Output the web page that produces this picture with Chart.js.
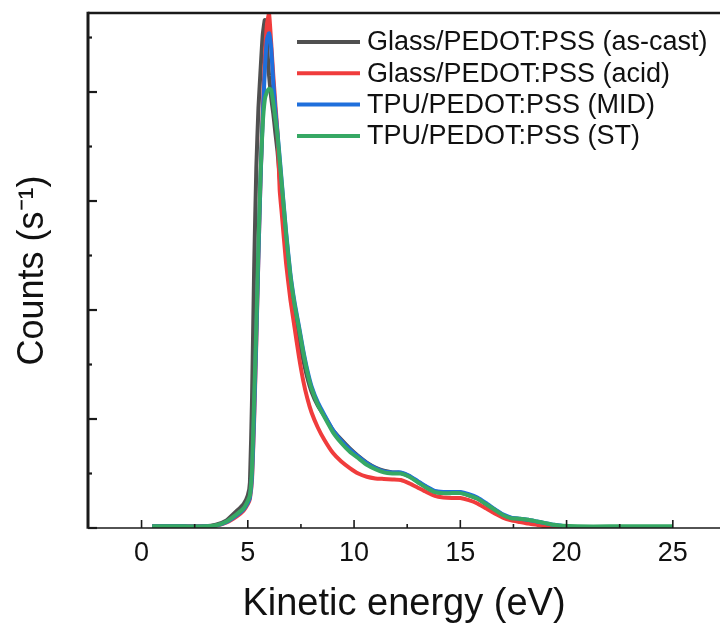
<!DOCTYPE html>
<html><head><meta charset="utf-8">
<style>html,body{margin:0;padding:0;background:#fff;overflow:hidden}canvas{display:block}</style>
<script src="https://cdn.jsdelivr.net/npm/chart.js@4.4.1/dist/chart.umd.min.js"></script>
</head><body>
<canvas id="c" width="720" height="629"></canvas>
<script>
// ---- data (kinetic energy in eV, counts in arbitrary units) ----
const energy = [0.5, 1, 2, 3, 3.5,
  4, 4.5, 4.8, 5.0, 5.1,
  5.2, 5.3, 5.4, 5.5, 5.6, 5.7, 5.8, 5.9, 6.0,
  6.1, 6.2, 6.3, 6.4, 6.5, 6.6,
  6.8, 7.0, 7.2, 7.4, 7.6, 7.8, 8.0,
  8.3, 8.6,
  9.0, 9.4, 9.8, 10.2, 10.6, 11.0, 11.4, 11.8, 12.2, 12.6, 13.0, 13.4, 13.8, 14.2,
  14.6, 15.0, 15.4, 15.8, 16.2, 16.6, 17.0, 17.4, 17.8, 18.2, 18.6, 19.0, 19.4, 19.8,
  20.5, 22, 23.5, 25];

const glassAsCast = [0.015, 0.015, 0.015, 0.015, 0.03,
  0.07, 0.16, 0.22, 0.30, 0.42,
  1.2, 2.4, 3.3, 3.85, 4.2, 4.52, 4.66, 4.45, 4.15,
  3.95, 3.8, 3.62, 3.45, 3.22, 3.0,
  2.58, 2.22, 1.96, 1.74, 1.55, 1.38, 1.25,
  1.12, 1.03,
  0.90, 0.81, 0.73, 0.66, 0.60, 0.555, 0.525, 0.51, 0.505, 0.475, 0.425, 0.375, 0.335, 0.325,
  0.325, 0.325, 0.30, 0.27, 0.22, 0.17, 0.12, 0.09, 0.08, 0.07, 0.055, 0.04, 0.025, 0.015,
  null, null, null, null];

const glassAcid = [0.015, 0.015, 0.015, 0.015, 0.02,
  0.05, 0.11, 0.16, 0.22, 0.27,
  0.45, 1.0, 1.7, 2.5, 3.2, 3.8, 4.3, 4.62, 4.72,
  4.45, 4.15, 3.88, 3.62, 3.1, 2.88,
  2.43, 2.1, 1.84, 1.58, 1.36, 1.19, 1.06,
  0.92, 0.81,
  0.69, 0.61, 0.55, 0.50, 0.47, 0.455, 0.45, 0.445, 0.44, 0.41, 0.37, 0.33, 0.295, 0.28,
  0.275, 0.275, 0.255, 0.225, 0.18, 0.135, 0.095, 0.07, 0.055, 0.04, 0.03, 0.015, 0.012, 0.01,
  null, null, null, null];

const tpuMID = [0.015, 0.015, 0.015, 0.015, 0.022,
  0.055, 0.12, 0.17, 0.23, 0.28,
  0.48, 1.05, 1.75, 2.5, 3.2, 3.75, 4.2, 4.48, 4.54,
  4.4, 4.08, 3.82, 3.62, 3.4, 3.17,
  2.72, 2.34, 2.07, 1.86, 1.64, 1.45, 1.30,
  1.15, 1.04,
  0.90, 0.80, 0.72, 0.655, 0.595, 0.55, 0.52, 0.51, 0.51, 0.48, 0.43, 0.38, 0.34, 0.33,
  0.33, 0.33, 0.31, 0.28, 0.23, 0.175, 0.125, 0.095, 0.085, 0.075, 0.06, 0.045, 0.03, 0.02,
  null, null, null, null];

const tpuST = [0.015, 0.015, 0.015, 0.015, 0.025,
  0.06, 0.13, 0.18, 0.25, 0.30,
  0.55, 1.2, 1.85, 2.6, 3.25, 3.7, 3.93, 4.0, 4.03,
  4.02, 3.9, 3.75, 3.6, 3.37, 3.15,
  2.70, 2.32, 2.05, 1.84, 1.62, 1.43, 1.28,
  1.13, 1.02,
  0.88, 0.78, 0.70, 0.64, 0.58, 0.54, 0.51, 0.50, 0.50, 0.47, 0.42, 0.37, 0.33, 0.32,
  0.32, 0.32, 0.30, 0.27, 0.22, 0.17, 0.12, 0.09, 0.085, 0.075, 0.06, 0.045, 0.03, 0.02,
  0.015, 0.015, 0.015, 0.015];

const seriesLabels = ['Glass/PEDOT:PSS (as-cast)', 'Glass/PEDOT:PSS (acid)', 'TPU/PEDOT:PSS (MID)', 'TPU/PEDOT:PSS (ST)'];
const xMajorTicks = [0, 5, 10, 15, 20, 25];
const xMinorTicks = [2.5, 7.5, 12.5, 17.5, 22.5];
const yMajorTicks = [0, 1, 2, 3, 4];
const yMinorTicks = [0.5, 1.5, 2.5, 3.5, 4.5];

// ---- helpers ----
const FONT = '"Liberation Sans", Arial, Helvetica, sans-serif';
const colors = ['#505050', '#F03C3C', '#1F6FDC', '#36A864'];
function toXY(vals) {
  const out = [];
  energy.forEach((e, i) => { if (vals[i] !== null) out.push({x: e, y: vals[i]}); });
  return out;
}
const seriesValues = [glassAsCast, glassAcid, tpuMID, tpuST];

const framePlugin = {
  id: 'frame',
  afterDatasetsDraw(chart) {
    const {ctx, chartArea: a, scales} = chart;
    const x = scales.x, y = scales.y;
    const seg = (x1, y1, x2, y2) => { ctx.beginPath(); ctx.moveTo(x1, y1); ctx.lineTo(x2, y2); ctx.stroke(); };
    ctx.save();
    ctx.strokeStyle = '#1a1a1a';
    ctx.lineCap = 'butt';
    ctx.lineWidth = 1.6;
    xMajorTicks.forEach(v => { const p = x.getPixelForValue(v); seg(p, a.bottom, p, a.bottom - 8); });
    xMinorTicks.forEach(v => { const p = x.getPixelForValue(v); seg(p, a.bottom, p, a.bottom - 4); });
    ctx.lineWidth = 2.2;
    yMajorTicks.forEach(v => { const p = y.getPixelForValue(v); seg(a.left, p, a.left + 9, p); });
    yMinorTicks.forEach(v => { const p = y.getPixelForValue(v); seg(a.left, p, a.left + 4, p); });
    // frame
    ctx.lineWidth = 1.4;
    seg(a.left, a.bottom, a.right, a.bottom);
    ctx.lineWidth = 2.6;
    seg(a.left, a.top, a.right, a.top);
    ctx.lineWidth = 3;
    seg(a.left, a.top - 1.3, a.left, a.bottom + 0.7);
    ctx.restore();
  }
};

const legendPlugin = {
  id: 'insideLegend',
  afterDraw(chart) {
    const ctx = chart.ctx;
    ctx.save();
    ctx.font = '27px ' + FONT;
    ctx.textBaseline = 'middle';
    ctx.textAlign = 'left';
    chart.data.datasets.forEach((ds, i) => {
      const yy = 42 + i * 31.3;
      ctx.strokeStyle = ds.borderColor;
      ctx.lineWidth = 4;
      ctx.beginPath(); ctx.moveTo(297, yy); ctx.lineTo(360, yy); ctx.stroke();
      ctx.fillStyle = '#111';
      ctx.fillText(ds.label, 367, yy + 1);
    });
    ctx.restore();
  }
};

new Chart(document.getElementById('c'), {
  type: 'line',
  data: {
    datasets: seriesLabels.map((lab, i) => ({
      label: lab,
      data: toXY(seriesValues[i]),
      borderColor: colors[i],
      backgroundColor: colors[i],
      borderWidth: 4,
      pointRadius: 0,
      tension: 0.15,
      borderJoinStyle: 'round',
      fill: false,
      order: 4 - i
    }))
  },
  options: {
    responsive: false,
    animation: false,
    events: [],
    layout: {padding: {left: 0, right: 0, top: 13, bottom: 0}},
    plugins: {legend: {display: false}, tooltip: {enabled: false}},
    scales: {
      x: {
        type: 'linear',
        min: -2.52,
        max: 27.22,
        afterBuildTicks: s => { s.ticks = xMajorTicks.map(v => ({value: v})); },
        afterFit: s => { s.height = 101; },
        grid: {display: false, drawTicks: false},
        border: {display: false},
        ticks: {font: {family: FONT, size: 27}, color: '#111', padding: 9, maxRotation: 0, autoSkip: false},
        title: {display: true, text: 'Kinetic energy (eV)', font: {family: FONT, size: 38}, color: '#111', padding: {top: 0, bottom: 2}}
      },
      y: {
        min: 0,
        max: 4.725,
        afterBuildTicks: s => { s.ticks = yMajorTicks.map(v => ({value: v})); },
        afterFit: s => { s.width = 88; },
        grid: {display: false, drawTicks: false},
        border: {display: false},
        ticks: {display: false},
        title: {display: true, text: 'Counts (s\u207B\u00B9)', font: {family: FONT, size: 36}, color: '#111', padding: {top: 11, bottom: 0}}
      }
    }
  },
  plugins: [framePlugin, legendPlugin]
});
</script>
</body></html>
